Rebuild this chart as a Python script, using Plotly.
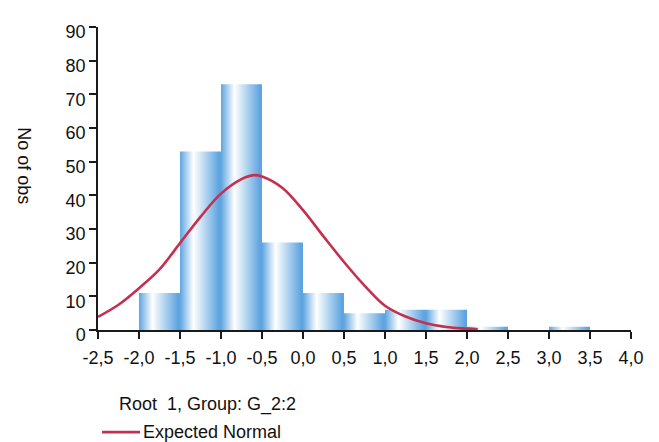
import plotly.graph_objects as go

# ---- data ----
bin_left = [-2.0, -1.5, -1.0, -0.5, 0.0, 0.5, 1.0, 1.5, 2.0, 3.0]
bin_width = 0.5
counts = [11, 53, 73, 26, 11, 5, 6, 6, 1, 1]

curve_x = [-2.5, -2.25, -2.0, -1.75, -1.5, -1.25, -1.0, -0.75, -0.6, -0.5,
           -0.25, 0.0, 0.25, 0.5, 0.75, 1.0, 1.25, 1.5, 1.75, 2.0, 2.13]
curve_y = [3.9, 7.5, 12.4, 18.0, 25.8, 33.6, 40.5, 44.8, 46.0, 45.6,
           42.2, 35.6, 27.8, 20.2, 13.2, 7.2, 4.0, 2.0, 0.9, 0.4, 0.2]

x_ticks = [-2.5, -2.0, -1.5, -1.0, -0.5, 0.0, 0.5, 1.0, 1.5, 2.0, 2.5, 3.0, 3.5, 4.0]
x_labels = ["-2,5", "-2,0", "-1,5", "-1,0", "-0,5", "0,0", "0,5", "1,0",
            "1,5", "2,0", "2,5", "3,0", "3,5", "4,0"]
y_ticks = [0, 10, 20, 30, 40, 50, 60, 70, 80, 90]
y_labels = [str(v) for v in y_ticks]

legend_title = "Root  1, Group: G_2:2"
curve_name = "Expected Normal"
y_title = "No of obs"

FONT = "Liberation Sans, Arial, sans-serif"
TXT = "#111111"
BLUE = "#5ea4e0"
RED = "#c5304f"

fig = go.Figure()

for left, c in zip(bin_left, counts):
    right = left + bin_width
    fig.add_trace(go.Scatter(
        x=[left, left, right, right, left],
        y=[0, c, c, 0, 0],
        mode="none",
        fill="toself",
        fillgradient=dict(
            type="horizontal",
            colorscale=[[0, BLUE], [0.33, "#ffffff"], [0.95, BLUE], [1, BLUE]],
        ),
        showlegend=False,
        hoverinfo="skip",
    ))

fig.add_trace(go.Scatter(
    x=curve_x, y=curve_y, mode="lines", name=curve_name, showlegend=False,
    line=dict(color=RED, width=2.6, shape="spline", smoothing=1.0),
))

axis_common = dict(
    showgrid=False, zeroline=False, showline=True, linecolor="#1a1a1a",
    linewidth=1.5, ticks="outside", ticklen=7, tickwidth=1.5, tickcolor="#1a1a1a",
    tickfont=dict(family=FONT, size=18, color=TXT), automargin=False,
)

fig.update_xaxes(range=[-2.5, 4.0], tickvals=x_ticks, ticktext=x_labels,
                 ticklabelstandoff=4, **axis_common)
fig.update_yaxes(range=[0, 90], tickvals=y_ticks, ticktext=y_labels,
                 ticklabelshift=5, **axis_common)

fig.add_annotation(
    text=y_title, textangle=90, xref="paper", yref="paper",
    x=-0.139, y=0.541, xanchor="center", yanchor="middle", showarrow=False,
    font=dict(family=FONT, size=18, color=TXT),
)

# legend block (title + line sample + label) below the plot
fig.add_annotation(
    text=legend_title, xref="paper", yref="paper", x=0.036, y=-0.2475,
    xanchor="left", yanchor="middle", showarrow=False,
    font=dict(family=FONT, size=18, color=TXT),
)
fig.add_annotation(
    text=curve_name, xref="paper", yref="paper", x=0.081, y=-0.337,
    xanchor="left", yanchor="middle", showarrow=False,
    font=dict(family=FONT, size=18, color=TXT),
)
fig.add_shape(
    type="line", xref="paper", yref="paper", x0=0.0075, x1=0.0788,
    y0=-0.337, y1=-0.337, line=dict(color=RED, width=2.6),
)

fig.update_layout(
    width=659, height=442,
    margin=dict(l=98, r=28, t=27, b=112, autoexpand=False),
    plot_bgcolor="white", paper_bgcolor="white",
    showlegend=False,
)

fig.write_html(
    "out.html",
    config={"displayModeBar": False},
    post_script="document.body.style.margin='0px';document.body.style.padding='0px';",
)
